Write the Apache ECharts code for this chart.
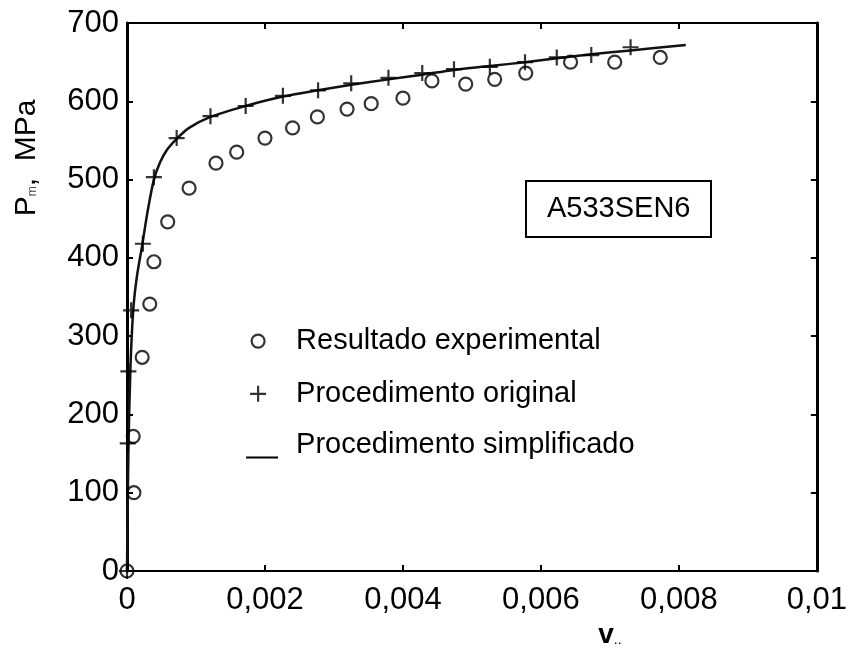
<!DOCTYPE html>
<html>
<head>
<meta charset="utf-8">
<script src="https://cdn.jsdelivr.net/npm/echarts@6/dist/echarts.min.js"></script>
<style>html,body{margin:0;padding:0;background:#fff;}#c{width:850px;height:655px;}</style>
</head>
<body>
<div id="c"></div>
<script>
// ---- data ----
const xTickLabels = ['0', '0,002', '0,004', '0,006', '0,008', '0,01'];
const yTickLabels = ['0', '100', '200', '300', '400', '500', '600', '700'];

const expX = [0, 0.0001, 0.00009, 0.00022, 0.00033, 0.00039, 0.00059, 0.0009, 0.00129, 0.00159, 0.002, 0.0024, 0.00276, 0.00319, 0.00354, 0.0040, 0.00442, 0.00491, 0.00533, 0.00578, 0.00643, 0.00707, 0.00773];
const expY = [0, 100, 172, 273, 341, 395, 446, 489, 521, 535, 553, 566, 580, 590, 597, 604, 626, 622, 628, 636, 650, 650, 656];

const origX = [0, 0.00001, 0.00002, 0.00006, 0.00023, 0.00039, 0.00072, 0.00121, 0.00172, 0.00226, 0.00277, 0.00325, 0.00379, 0.00428, 0.00474, 0.00526, 0.00577, 0.00623, 0.00673, 0.0073];
const origY = [0, 163, 255, 333, 418, 503, 553, 581, 594, 607, 614, 623, 630, 636, 641, 644, 650, 656, 659, 669];

const simpX = [0, 0.00002, 0.00005, 0.00009, 0.00014, 0.00022, 0.0003, 0.00039, 0.00048, 0.00058, 0.00072, 0.0009, 0.00121, 0.00172, 0.00226, 0.00277, 0.00325, 0.00379, 0.00428, 0.00474, 0.00526, 0.00577, 0.00623, 0.00673, 0.0073, 0.0081];
const simpY = [0, 150, 260, 333, 374, 416, 460, 500, 522, 538, 552, 566, 580, 594, 606, 614, 621, 628, 634, 640, 645, 650, 655, 660, 665, 672];

const seriesNames = ['Resultado experimental', 'Procedimento original', 'Procedimento simplificado'];
const annotationText = 'A533SEN6';

// ---- chart ----
const zip = (a, b) => a.map((v, i) => [v, b[i]]);
const FONT = "'Liberation Sans', Arial, Helvetica, sans-serif";
const chart = echarts.init(document.getElementById('c'), null, { renderer: 'canvas' });

const PLUS = 'path://M6,0L6,12M0,6L12,6';
const axisCommon = {
  axisTick: { inside: true, length: 6, lineStyle: { color: '#000', width: 2 } },
  splitLine: { show: false }
};

chart.setOption({
  animation: false,
  backgroundColor: '#fff',
  grid: { left: 127, right: 31, top: 23, bottom: 84, containLabel: false },
  title: {
    text: annotationText, left: 526, top: 181,
    padding: [13, 21, 13, 21], borderWidth: 2, borderColor: '#000',
    textStyle: { fontFamily: FONT, fontSize: 29, fontWeight: 'normal', color: '#000', lineHeight: 30 }
  },
  legend: {
    orient: 'vertical', left: 240, top: 320,
    itemWidth: 32, itemHeight: 30, itemGap: 20.5,
    symbolKeepAspect: true,
    textStyle: { fontFamily: FONT, fontSize: 29, color: '#000', lineHeight: 30, padding: [0, 0, 0, 13] },
    data: [
      { name: seriesNames[0], icon: 'path://M0,0M32,30M18.5,15A6.5,6.5 0 1 1 5.5,15A6.5,6.5 0 1 1 18.5,15Z',
        itemStyle: { color: 'transparent', borderColor: '#000', borderWidth: 2.2 } },
      { name: seriesNames[1], icon: 'path://M0,0M32,30M12,7L12,23M4,15L20,15',
        itemStyle: { color: 'transparent', borderColor: '#000', borderWidth: 2.2 } },
      { name: seriesNames[2], icon: 'path://M0,0M32,30M0,26L32,26L32,28L0,28Z',
        itemStyle: { color: '#000', borderWidth: 0 } }
    ]
  },
  xAxis: [
    Object.assign({}, axisCommon, {
      type: 'value', min: 0, max: 0.01, interval: 0.002, position: 'bottom',
      axisLine: { onZero: false, lineStyle: { color: '#000', width: 2 } },
      axisLabel: { fontFamily: FONT, fontSize: 31, color: '#000', margin: 14,
        formatter: v => xTickLabels[Math.round(v / 0.002)] },
      name: '{v|v}{s|..}', nameLocation: 'middle', nameGap: 47,
      nameTextStyle: { padding: [0, 0, 0, 276],
        rich: { v: { fontFamily: FONT, fontSize: 28, fontWeight: 'bold', color: '#000' },
                s: { fontFamily: FONT, fontSize: 14, color: '#000', padding: [10, 0, 0, 0] } } }
    }),
    Object.assign({}, axisCommon, {
      type: 'value', min: 0, max: 0.01, interval: 0.002, position: 'top',
      axisLine: { onZero: false, lineStyle: { color: '#000', width: 2 } },
      axisLabel: { show: false }
    })
  ],
  yAxis: [
    Object.assign({}, axisCommon, {
      type: 'value', min: 0, max: 700, interval: 100, position: 'left',
      axisLine: { onZero: false, lineStyle: { color: '#000', width: 3 } },
      axisLabel: { fontFamily: FONT, fontSize: 31, color: '#000', margin: 8,
        formatter: v => yTickLabels[Math.round(v / 100)] },
      name: '{p|P}{s|m}{p|,  MPa}', nameLocation: 'middle', nameRotate: 90, nameGap: 85,
      nameTextStyle: { padding: [0, 0, 0, 278],
        rich: { p: { fontFamily: FONT, fontSize: 30, color: '#000' },
                s: { fontFamily: FONT, fontSize: 12, color: '#444', padding: [12, 0, 0, 0] } } }
    }),
    Object.assign({}, axisCommon, {
      type: 'value', min: 0, max: 700, interval: 100, position: 'right',
      axisLine: { onZero: false, lineStyle: { color: '#000', width: 3 } },
      axisLabel: { show: false }
    })
  ],
  series: [
    {
      name: seriesNames[2], type: 'line', data: zip(simpX, simpY),
      showSymbol: false, smooth: 0.3, clip: false,
      lineStyle: { color: '#111', width: 2.5 }, itemStyle: { color: '#111' }, z: 2
    },
    {
      name: seriesNames[1], type: 'scatter', data: zip(origX, origY),
      symbol: PLUS, symbolSize: 16, clip: false,
      itemStyle: { color: 'transparent', borderColor: '#000', borderWidth: 2.2 }, z: 3
    },
    {
      name: seriesNames[0], type: 'scatter', data: zip(expX, expY),
      symbol: 'circle', symbolSize: 13, clip: false,
      itemStyle: { color: 'transparent', borderColor: '#000', borderWidth: 2.2 }, z: 4
    }
  ]
});
</script>
</body>
</html>
